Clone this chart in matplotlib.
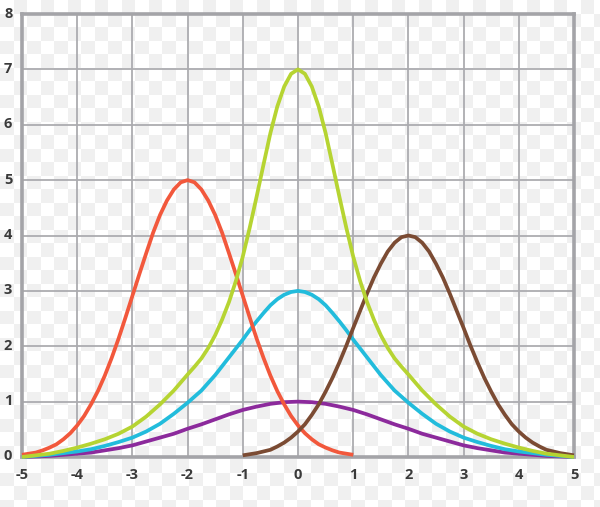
import numpy as np
import matplotlib
matplotlib.use('Agg')
import matplotlib.pyplot as plt
from matplotlib.transforms import ScaledTranslation

# values
# curves centred at 0 (symmetric): distance from centre -> height
d_p = [0, 0.25, 0.5, 0.75, 1.0, 1.25, 1.5, 1.75, 2.0, 2.25, 2.5, 2.75, 3.0,
       3.25, 3.5, 3.75, 4.0, 4.25, 4.5, 4.75, 5.0]
purple = [1.0, 0.99, 0.96, 0.91, 0.85, 0.77, 0.68, 0.59, 0.51, 0.42, 0.35, 0.28, 0.21,
          0.16, 0.12, 0.08, 0.06, 0.04, 0.02, 0.01, 0.0]

d_c = [0, 0.125, 0.25, 0.375, 0.5, 0.625, 0.75, 0.875, 1.0, 1.125, 1.25, 1.375, 1.5,
       1.75, 2.0, 2.25, 2.5, 2.75, 3.0, 3.25, 3.5, 3.75, 4.0, 4.25, 4.5, 4.75, 5.0]
cyan = [3.0, 2.98, 2.93, 2.85, 2.74, 2.6, 2.45, 2.29, 2.12, 1.96, 1.8, 1.64, 1.48,
        1.2, 0.98, 0.78, 0.6, 0.46, 0.35, 0.27, 0.2, 0.14, 0.1, 0.07, 0.04, 0.02, 0.0]

d_g = [0, 0.125, 0.25, 0.375, 0.5, 0.625, 0.75, 0.875, 1.0, 1.125, 1.25, 1.375, 1.5,
       1.625, 1.75, 1.875, 2.0, 2.25, 2.5, 2.75, 3.0, 3.25, 3.5, 3.75, 4.0, 4.25, 4.5,
       4.75, 5.0]
green = [7.0, 6.92, 6.69, 6.33, 5.85, 5.28, 4.7, 4.14, 3.62, 3.18, 2.8, 2.48, 2.2,
         1.97, 1.78, 1.63, 1.49, 1.2, 0.95, 0.73, 0.55, 0.42, 0.32, 0.24, 0.17, 0.11, 0.06,
         0.03, 0.0]

# red peak at -2, brown peak at 2
d_rb = [0, 0.125, 0.25, 0.375, 0.5, 0.625, 0.75, 0.875, 1.0, 1.125, 1.25, 1.375, 1.5,
        1.625, 1.75, 1.875, 2.0, 2.125, 2.25, 2.375, 2.5, 2.625, 2.75, 2.875, 3.0]
red = [5.0, 4.96, 4.83, 4.63, 4.37, 4.05, 3.68, 3.3, 2.91, 2.52, 2.14, 1.79, 1.47,
       1.19, 0.95, 0.74, 0.57, 0.43, 0.32, 0.23, 0.17, 0.12, 0.08, 0.06, 0.04]
brown = [4.0, 3.97, 3.87, 3.71, 3.49, 3.24, 2.95, 2.64, 2.33, 2.01, 1.71, 1.43, 1.18,
         0.95, 0.76, 0.59, 0.46, 0.35, 0.26, 0.19, 0.13, 0.1, 0.07, 0.05, 0.03]
red_c, brown_c = -2, 2

x_ticks = [-5, -4, -3, -2, -1, 0, 1, 2, 3, 4, 5]
y_ticks = [0, 1, 2, 3, 4, 5, 6, 7, 8]


def mirror(d, v, c=0):
    d = np.array(d)
    v = np.array(v)
    x = np.concatenate([c - d[::-1], c + d[1:]])
    y = np.concatenate([v[::-1], v[1:]])
    return x, y


fig = plt.figure(figsize=(6, 5.07), dpi=100)
fig.patch.set_facecolor('white')

# checkerboard backdrop (transparent-look)
H, W, sq = 507, 600, 13.5
yy, xx = np.mgrid[0:H, 0:W]
chk = ((xx // sq + yy // sq) % 2).astype(float)
bg = np.where(chk[..., None] > 0, 0.945, 1.0) * np.ones((H, W, 3))
fig.figimage(bg, 0, 0, zorder=-10)

ax = fig.add_axes([22 / 600, 1 - 457 / 507, 552 / 600, 443 / 507])
ax.set_facecolor('none')
ax.set_zorder(5)

kw = dict(lw=2.7, clip_on=False, solid_capstyle='butt', solid_joinstyle='round')
xp, yp = mirror(d_p, purple)
ax.plot(xp, yp, color='#8c2a9c', zorder=3, **kw)
xc, yc = mirror(d_c, cyan)
ax.plot(xc, yc, color='#22bcdc', zorder=4, **kw)
xr, yr = mirror(d_rb, red, red_c)
ax.plot(xr, yr, color='#f2583c', zorder=5, **kw)
xb, yb = mirror(d_rb, brown, brown_c)
ax.plot(xb, yb, color='#7b4b33', zorder=5, **kw)
xg, yg = mirror(d_g, green)
ax.plot(xg, yg, color='#b6d432', zorder=6, **kw)

ax.set_xlim(-5, 5)
ax.set_ylim(0, 8)
ax.set_xticks(x_ticks)
ax.set_yticks(y_ticks)
ax.grid(True, color='#acacb0', lw=1.3)
ax.set_axisbelow(True)
for s in ax.spines.values():
    s.set_color('#a4a4a8')
    s.set_linewidth(2.6)
    s.set_zorder(2)

fnt = dict(family=['Open Sans', 'DejaVu Sans'], weight='bold', size=10.5)
ax.set_xticklabels([str(v) for v in x_ticks], color='#3a3a3a', **fnt)
ax.set_yticklabels([str(v) for v in y_ticks], color='#3a3a3a', **fnt)
ax.tick_params(length=0)
ax.tick_params(axis='x', pad=8)
ax.tick_params(axis='y', pad=7)
off = ScaledTranslation(0, 2 / 100, fig.dpi_scale_trans)
for t in ax.get_yticklabels():
    t.set_transform(t.get_transform() + off)

fig.savefig('out.png', dpi=100, facecolor='white')
